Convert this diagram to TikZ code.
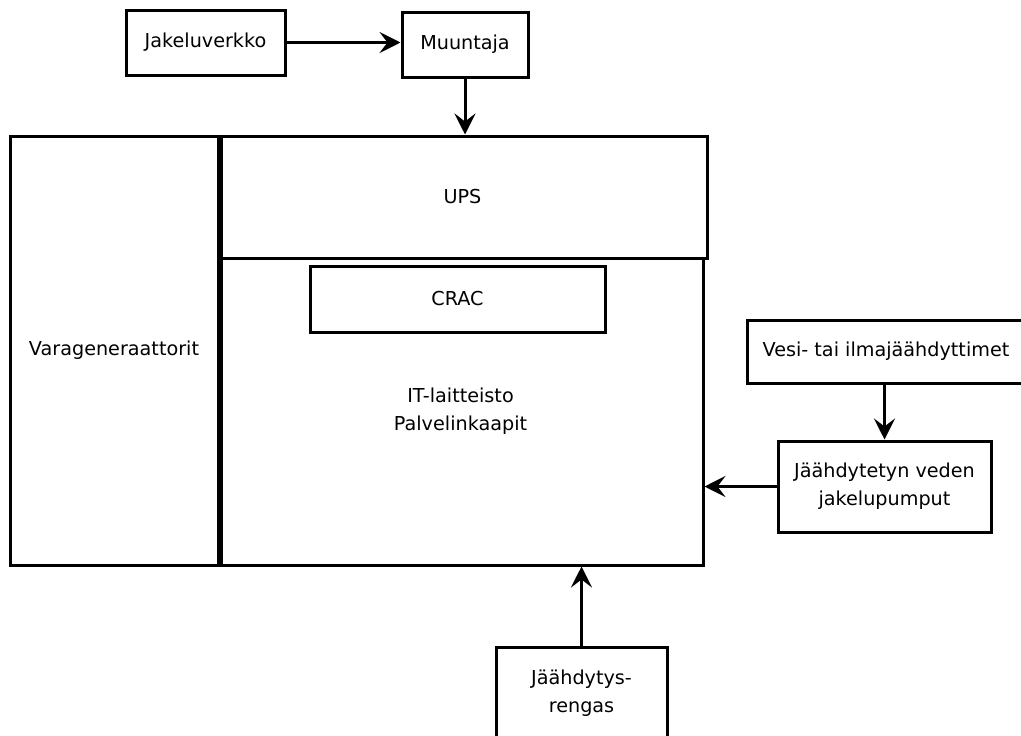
\documentclass[tikz,border=0pt]{standalone}
\usepackage{fontspec}
\setmainfont{DejaVu Sans}
\usepackage{tikz}
\usetikzlibrary{arrows.meta, positioning, calc}

\begin{document}
\begin{tikzpicture}[
        x=1pt, y=-1pt,
        font=\fontsize{19.2}{28}\selectfont,
        box/.style={draw, line width=3pt, align=center, inner sep=0pt},
        arr/.style={-{Stealth[length=21pt, width=21pt, inset=8pt]}, line width=3pt}
    ]
        \useasboundingbox (0,0) rectangle (1021,736);

        % power feed
        \node[box, minimum width=159pt, minimum height=65pt] (verkko) at (205.5,42.5) {Jakeluverkko};
        \node[box, minimum width=126pt, minimum height=65pt] (muuntaja) at (465,44.5) {Muuntaja};

        % hall
        \node[box, minimum width=208pt, minimum height=429pt] (gen) at (114,350.5) {Varageneraattorit};
        \node[box, minimum width=489pt, minimum height=122pt] (ups) at (462.5,197) {UPS};
        \node[box, minimum width=485pt, minimum height=307pt] (it) at (460.5,411.5) {IT-laitteisto\\Palvelinkaapit};
        \node[box, minimum width=295pt, minimum height=66pt] (crac) at (457.5,299) {CRAC};
        \draw[line width=6pt] (gen.north east) -- (gen.south east);

        % cooling
        \node[box, minimum width=278pt, minimum height=63pt] (jaahd) at (886,351.5) {Vesi- tai ilmajäähdyttimet};
        \node[box, minimum width=213pt, minimum height=91pt] (pumput) at (884.5,486.5) {Jäähdytetyn veden\\jakelupumput};
        \node[box, minimum width=171pt, minimum height=92pt] (rengas) at (581.5,693) {Jäähdytys-\\rengas};

        \draw[arr] (verkko.east) -- (verkko.east -| muuntaja.west);
        \draw[arr] (muuntaja.south) -- (muuntaja.south |- ups.north);
        \draw[arr] (jaahd.south -| pumput.north) -- (pumput.north);
        \draw[arr] (pumput.west) -- (pumput.west -| it.east);
        \draw[arr] (rengas.north) -- (rengas.north |- it.south);
    \end{tikzpicture}
\end{document}
